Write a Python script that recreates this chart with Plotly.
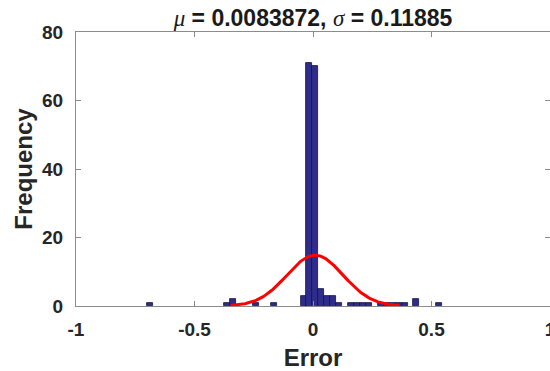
import numpy as np
import plotly.graph_objects as go

# Histogram bins (centers) and counts
bin_centers = [-0.686, -0.363, -0.338, -0.240, -0.165, -0.040, -0.015, 0.010,
               0.035, 0.061, 0.086, 0.111, 0.161, 0.187, 0.212, 0.237,
               0.286, 0.311, 0.337, 0.362, 0.387, 0.434, 0.532]
counts = [1, 1, 2, 1, 1, 3, 71, 70, 5, 3, 3, 1, 1, 1, 1, 1, 1, 1, 1, 1, 1, 2, 1]
bin_width = 0.0254

mu = 0.0083872
sigma = 0.11885

x_ticks = [-1, -0.5, 0, 0.5, 1]
x_tick_text = ["-1", "-0.5", "0", "0.5", "1"]
y_ticks = [0, 20, 40, 60, 80]

# Normal fit curve (as histfit: mu +/- 3 sigma, scaled to counts)
n_total = sum(counts)
xc = np.linspace(mu - 3 * sigma, mu + 3 * sigma, 200)
yc = n_total * bin_width * np.exp(-0.5 * ((xc - mu) / sigma) ** 2) / (sigma * np.sqrt(2 * np.pi))

fig = go.Figure()
fig.add_trace(go.Bar(
    x=bin_centers, y=counts, width=bin_width,
    marker=dict(color="#2e2d8c", line=dict(color="#14143c", width=0.8)),
    showlegend=False, hoverinfo="x+y",
))
fig.add_trace(go.Scatter(
    x=xc, y=yc, mode="lines",
    line=dict(color="#ff0000", width=3),
    showlegend=False,
))

tick_font = dict(family="Liberation Sans, Arial, sans-serif", size=19, color="#262626", weight=700)
label_font = dict(family="Liberation Sans, Arial, sans-serif", size=24, color="#262626", weight=700)

fig.update_layout(
    width=550, height=371,
    margin=dict(l=76, r=0, t=32, b=65, autoexpand=False),
    paper_bgcolor="white", plot_bgcolor="white",
    bargap=0,
    title=dict(
        text="<span style='font-family:Liberation Serif;font-weight:normal'><i>μ</i></span> = 0.0083872, "
             "<span style='font-family:Liberation Serif;font-weight:normal'><i>σ</i></span> = 0.11885",
        x=0.5, xanchor="center", xref="paper",
        y=1 - 18 / 371, yanchor="middle", yref="container",
        font=dict(family="Liberation Sans, Arial, sans-serif", size=23, color="#1a1a1a", weight=700),
    ),
    xaxis=dict(
        range=[-1, 1], tickvals=x_ticks, ticktext=x_tick_text,
        showgrid=False, zeroline=False,
        showline=True, linecolor="#8c8c8c", linewidth=1, mirror="allticks",
        ticks="inside", ticklen=5, tickcolor="#8c8c8c",
        tickfont=tick_font, ticklabelstandoff=6, ticklabeloverflow="allow",
        title=dict(text="Error", font=label_font, standoff=13),
        automargin=False,
    ),
    yaxis=dict(
        range=[0, 80], tickvals=y_ticks,
        showgrid=False, zeroline=False,
        showline=True, linecolor="#8c8c8c", linewidth=1, mirror="allticks",
        ticks="inside", ticklen=5, tickcolor="#8c8c8c",
        tickfont=tick_font, ticklabelstandoff=8, ticklabeloverflow="allow",
        title=dict(text="Frequency", font=label_font, standoff=2),
        automargin=False,
    ),
)

fig.write_html("out.html")
